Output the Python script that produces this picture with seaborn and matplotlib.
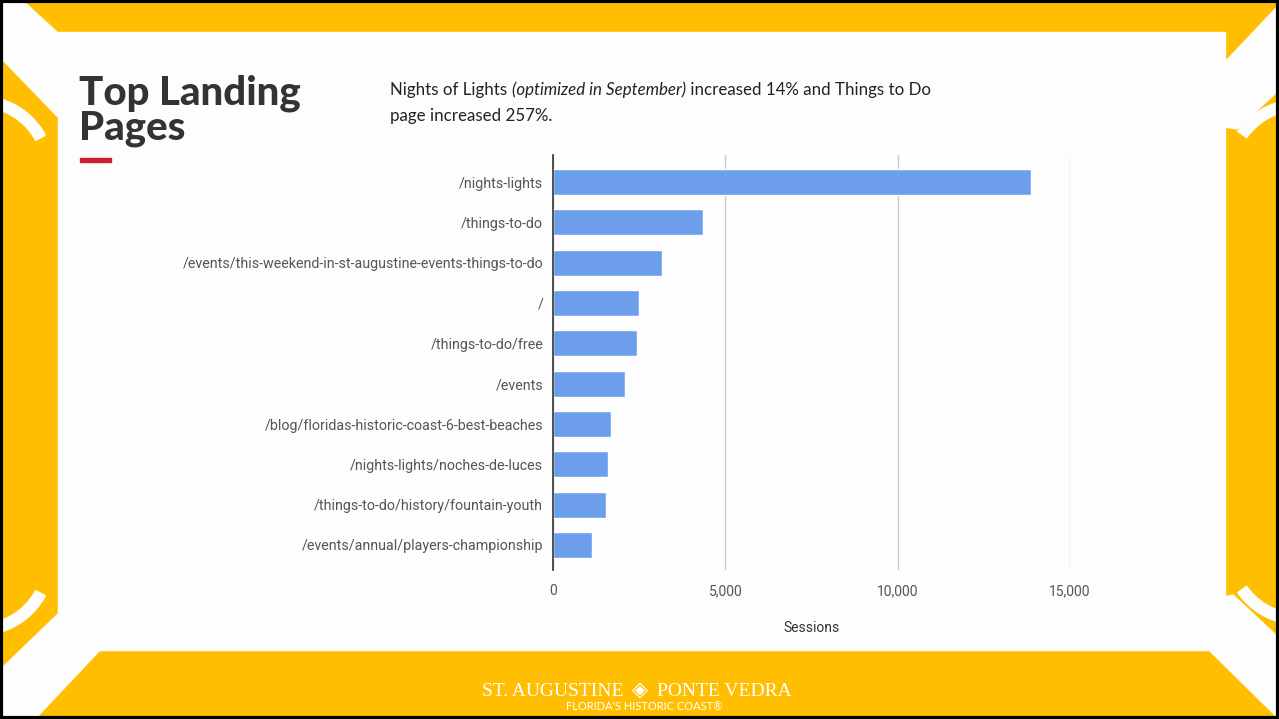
import matplotlib
matplotlib.use("Agg")
import matplotlib.pyplot as plt
from matplotlib.patches import Rectangle, Polygon, Wedge
import seaborn as sns
import pandas as pd

# data
pages = [
    "/nights-lights",
    "/things-to-do",
    "/events/this-weekend-in-st-augustine-events-things-to-do",
    "/",
    "/things-to-do/free",
    "/events",
    "/blog/floridas-historic-coast-6-best-beaches",
    "/nights-lights/noches-de-luces",
    "/things-to-do/history/fountain-youth",
    "/events/annual/players-championship",
]
sessions = [13880, 4340, 3170, 2500, 2430, 2090, 1670, 1590, 1540, 1120]
x_ticks = [0, 5000, 10000, 15000]
x_tick_labels = ["0", "5,000", "10,000", "15,000"]

YELLOW = "#ffbf00"
BAR = "#6d9eeb"

sns.set_theme(style="white")
plt.rcParams["font.family"] = ["Roboto", "DejaVu Sans"]

W, H = 1279, 719
fig = plt.figure(figsize=(W / 100, H / 100), dpi=100)
fig.patch.set_facecolor(YELLOW)

# background slide in pixel coordinates
bg = fig.add_axes([0, 0, 1, 1], zorder=0)
bg.set_xlim(0, W)
bg.set_ylim(H, 0)
bg.axis("off")
bg.set_facecolor(YELLOW)

white = "#fdfdfd"
bg.add_patch(Rectangle((58, 32), 1225 - 58, 650 - 32, color=white))
bg.add_patch(Polygon([(0, 0), (22, 0), (58, 33), (58, 117), (0, 57)], color=white))
bg.add_patch(Polygon([(0, 670), (58, 614), (58, 650), (100, 650), (35, 719), (0, 719)], color=white))
bg.add_patch(Polygon([(1225, 62), (1279, 5), (1279, 90), (1237, 129), (1225, 127)], color=white))
bg.add_patch(Polygon([(1225, 597), (1233, 595), (1279, 638), (1279, 719), (1209, 650), (1225, 650)], color=white))
bg.add_patch(Wedge((-20, 170), 74, -75, -28, width=11, color=white))
bg.add_patch(Wedge((-20, 561), 74, 28, 75, width=11, color=white))
bg.add_patch(Wedge((1300, 175), 76, -145, -100, width=11, color=white))
bg.add_patch(Wedge((1300, 549), 76, 100, 145, width=11, color=white))
bg.add_patch(Rectangle((1, 1), W - 2, H - 2, fill=False, ec="black", lw=3))

# title block
bg.text(79, 111, "Top Landing\nPages", fontsize=29, fontweight="black", family="Lato",
        color="#333333", va="center", ha="left", linespacing=0.92)
bg.add_patch(Rectangle((80, 158), 31, 4, color="#cc1f2f"))

sub = dict(fontsize=12.2, family="Lato", color="#222222")
t1 = bg.text(390, 95, "Nights of Lights ", va="baseline", ha="left", **sub)
t2 = bg.annotate("(optimized in September)", xy=(1, 0), xycoords=t1,
                 va="bottom", ha="left", style="italic", **sub)
t3 = bg.annotate(" increased 14% and Things to Do", xy=(1, 0), xycoords=t2,
                 va="bottom", ha="left", **sub)
bg.text(390, 121, "page increased 257%.", va="baseline", ha="left", **sub)

# footer logo
bg.text(623, 691, "ST. AUGUSTINE", color="white", fontsize=14,
        family="Liberation Serif", ha="right", va="center")
bg.text(640, 690, "\u25c8", color="white", fontsize=15, family="DejaVu Sans",
        ha="center", va="center")
bg.text(657, 691, "PONTE VEDRA", color="white", fontsize=14,
        family="Liberation Serif", ha="left", va="center")
bg.text(644, 707, "FLORIDA'S HISTORIC COAST\u00ae", color="white", fontsize=8,
        family="Lato", ha="center", va="center")

# bar chart
ax = fig.add_axes([553 / W, 1 - 570 / H, (1070 - 553) / W, (570 - 155) / H], zorder=1)
ax.set_facecolor("none")
df = pd.DataFrame({"page": pages, "sessions": sessions})
sns.barplot(data=df, x="sessions", y="page", color=BAR, width=0.65,
            saturation=1, ax=ax)

ax.set_xlim(0, 15000)
ax.set_ylim(9.62, -0.67)
ax.set_xticks(x_ticks)
ax.set_xticklabels(x_tick_labels)
ax.grid(axis="x", color="#cccccc", lw=1)
ax.grid(axis="y", visible=False)
for s in ["top", "right", "bottom"]:
    ax.spines[s].set_visible(False)
ax.spines["left"].set_color("#333333")
ax.spines["left"].set_linewidth(1.2)
ax.tick_params(axis="x", length=0, labelsize=10, labelcolor="#555555", pad=10)
ax.tick_params(axis="y", length=0, labelsize=10.3, labelcolor="#555555", pad=7)
ax.set_ylabel("")
ax.set_xlabel("Sessions", fontsize=10, color="#333333", labelpad=17)

fig.savefig("out.png", dpi=100, facecolor=fig.get_facecolor())
